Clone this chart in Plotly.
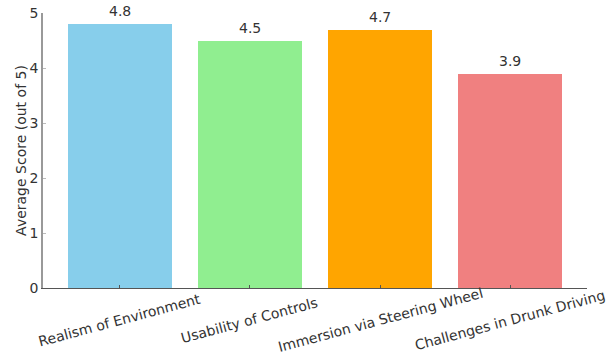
import plotly.graph_objects as go

categories = ["Realism of Environment", "Usability of Controls",
              "Immersion via Steering Wheel", "Challenges in Drunk Driving"]
scores = [4.8, 4.5, 4.7, 3.9]
colors = ["#87CEEB", "#90EE90", "#FFA500", "#F08080"]
y_ticks = [0, 1, 2, 3, 4, 5]

xs = list(range(len(categories)))
FONT = "DejaVu Sans"
TXT = "#333333"

fig = go.Figure()
fig.add_trace(go.Bar(
    x=xs, y=scores, width=0.8,
    marker=dict(color=colors, line=dict(width=0)),
    showlegend=False, hoverinfo="skip",
))

for i, v in zip(xs, scores):
    fig.add_annotation(
        x=i, y=v, xref="x", yref="y", text=f"{v}", showarrow=False,
        xanchor="center", yanchor="bottom", yshift=3,
        font=dict(family=FONT, size=14, color=TXT),
    )

for i, c in enumerate(categories):
    fig.add_annotation(
        x=i, y=-0.118, xref="x", yref="paper", text=c, showarrow=False,
        textangle=-15, font=dict(family=FONT, size=14, color=TXT),
        xanchor="center", yanchor="middle",
    )

fig.update_layout(
    width=614, height=360,
    margin=dict(l=43, r=27, t=13, b=72, autoexpand=False),
    paper_bgcolor="white", plot_bgcolor="white",
    font=dict(family=FONT, size=14, color=TXT),
    xaxis=dict(range=[-0.59, 3.59], tickvals=xs, ticktext=[""] * 4,
               showgrid=False, zeroline=False, showline=True,
               linecolor="#555555", linewidth=1.2, automargin=False,
               ticks="inside", ticklen=3, tickcolor="#555555"),
    yaxis=dict(range=[0, 5], tickvals=y_ticks, showgrid=False, zeroline=False,
               showline=True, linecolor="#999999", linewidth=1.5,
               automargin=False,
               ticks="inside", ticklen=3, tickcolor="#bbbbbb",
               title=dict(text="Average Score (out of 5)", standoff=0,
                          font=dict(family=FONT, size=14, color=TXT)),
               tickfont=dict(family=FONT, size=14, color=TXT)),
    bargap=0,
)

fig.write_html("out.html")
